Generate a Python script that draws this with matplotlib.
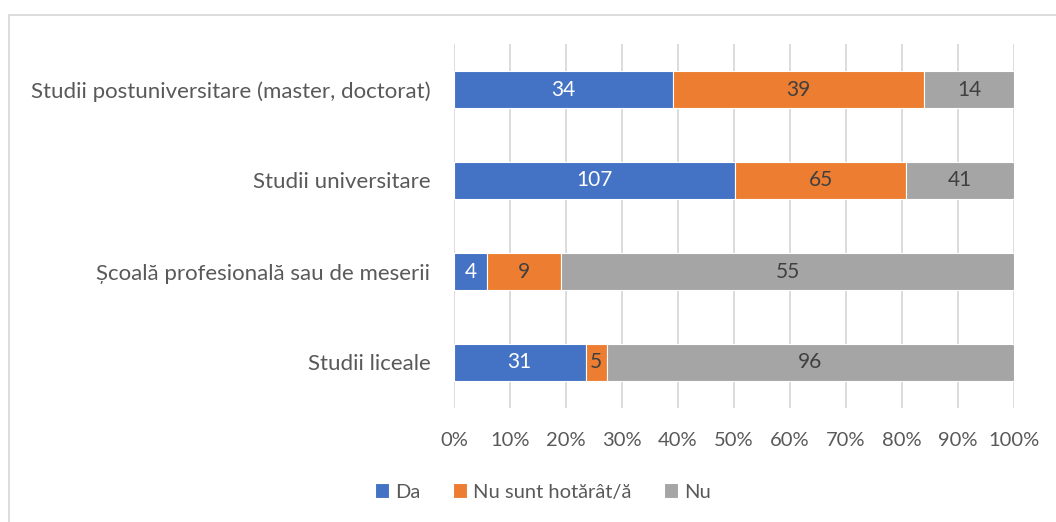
import matplotlib
matplotlib.use("Agg")
import matplotlib.pyplot as plt
import numpy as np
from matplotlib.patches import Rectangle

categories = ["Studii liceale", "Școală profesională sau de meserii",
              "Studii universitare", "Studii postuniversitare (master, doctorat)"]
series_names = ["Da", "Nu sunt hotărât/ă", "Nu"]
da = [31, 4, 107, 34]
nu_sunt = [5, 9, 65, 39]
nu = [96, 55, 41, 14]
colors = ["#4472C4", "#ED7D31", "#A5A5A5"]
label_colors = ["white", "#404040", "#404040"]
xticks = [0, 10, 20, 30, 40, 50, 60, 70, 80, 90, 100]

plt.rcParams['font.family'] = ['Lato', 'DejaVu Sans']
FS = 14.5
fig = plt.figure(figsize=(10.56, 5.22), dpi=100)
W, H = 1056, 522
fig.patches.append(Rectangle((9 / W, -0.1), 1.2, 1 - 15 / H + 0.1, transform=fig.transFigure,
                             fill=False, edgecolor="#D9D9D9", linewidth=1.3))
ax = fig.add_axes([454 / W, 1 - 408 / H, (1014 - 454) / W, (408 - 44) / H])

data = np.array([da, nu_sunt, nu], dtype=float)
totals = data.sum(axis=0)
pct = data / totals * 100
y = np.arange(len(categories))
left = np.zeros(len(categories))
for i, name in enumerate(series_names):
    bars = ax.barh(y, pct[i], left=left, height=0.4, color=colors[i], label=name,
                   edgecolor="white", linewidth=0.8, zorder=3)
    for j in range(len(categories)):
        ax.text(left[j] + pct[i][j] / 2, y[j], f"{int(data[i][j])}", ha="center", va="center",
                color=label_colors[i], fontsize=FS + 0.5, zorder=4)
    left += pct[i]

ax.set_xlim(0, 100)
ax.set_ylim(-0.5, len(categories) - 0.5)
ax.set_xticks(xticks)
ax.set_xticklabels([f"{t}%" for t in xticks], fontsize=FS, color="#595959")
ax.set_yticks(y)
ax.set_yticklabels(categories, fontsize=16, color="#595959")
ax.tick_params(axis="both", length=0)
ax.tick_params(axis="x", pad=17)
ax.tick_params(axis="y", pad=17)
ax.grid(axis="x", color="#D9D9D9", linewidth=1.3, zorder=0)
for s in ax.spines.values():
    s.set_visible(False)

leg = fig.legend(loc="center", bbox_to_anchor=(543 / W, 1 - 492 / H), ncol=3, frameon=False,
                 fontsize=FS, handlelength=0.7, handleheight=0.7, handletextpad=0.3,
                 columnspacing=1.6, labelcolor="#595959")
fig.savefig("out.png", dpi=100)
